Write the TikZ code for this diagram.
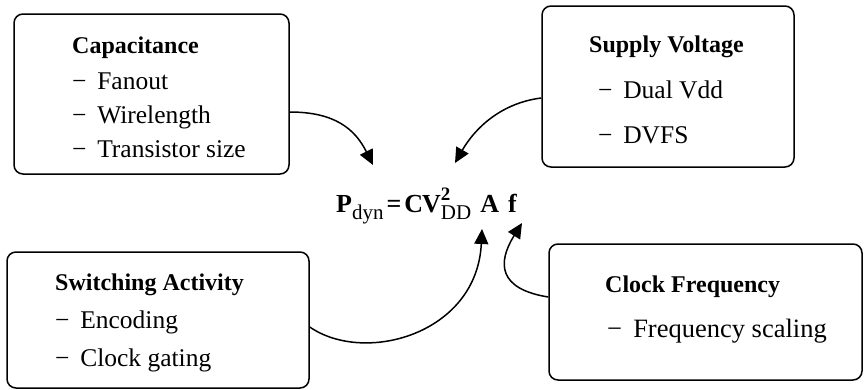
\documentclass[tikz,border=0pt]{standalone}
\usepackage{fontspec}
\setmainfont{Liberation Serif}
\usetikzlibrary{arrows.meta}
\begin{document}
\begin{tikzpicture}[x=1pt,y=-1pt,
  box/.style={draw, line width=1.5pt, rounded corners=9pt, inner sep=0pt},
  txt/.style={anchor=base west, inner sep=0pt, font=\fontsize{25.5}{30}\selectfont},
  ttl/.style={anchor=base west, inner sep=0pt, font=\fontsize{24}{28}\selectfont\bfseries},
  conn/.style={line width=1.5pt, -{Triangle[length=15pt,width=14pt]}}]
\useasboundingbox (0,0) rectangle (866,389);
\newcommand{\dsh}{−\hspace{0.42em}}
% boxes
\node[box, minimum width=275pt, minimum height=160pt] (cap) at (151.5,94) {};
\node[box, minimum width=252pt, minimum height=161pt] (sup) at (668,86.5) {};
\node[box, minimum width=302pt, minimum height=136pt] (sw) at (158,320) {};
\node[box, minimum width=313pt, minimum height=136pt] (clk) at (705.5,312) {};
% texts
\node[ttl] (capt) at (72,53) {Capacitance};
\node[txt] (cap1) at (72,89) {\dsh Fanout};
\node[txt] (cap2) at (72,123) {\dsh Wirelength};
\node[txt] (cap3) at (72,157) {\dsh Transistor size};
\node[ttl] (supt) at (589,52) {Supply Voltage};
\node[txt] (sup1) at (598,98) {\dsh Dual Vdd};
\node[txt] (sup2) at (598,143) {\dsh DVFS};
\node[ttl] (swt) at (55,290) {Switching Activity};
\node[txt] (sw1) at (55,328) {\dsh Encoding};
\node[txt] (sw2) at (55,366) {\dsh Clock gating};
\node[ttl] (clkt) at (605,292) {Clock Frequency};
\node[txt, font=\fontsize{26.5}{30}\selectfont] (clk1) at (607,337) {\dsh Frequency scaling};
% equation
\node[anchor=base west, inner sep=0pt, font=\fontsize{26}{30}\selectfont] (eq) at (336,212)
  {{\bfseries P}\raisebox{-7pt}{\fontsize{21}{22}\selectfont dyn}\kern3pt{\bfseries =}\kern3pt{\bfseries C\kern-1pt V}\rlap{\raisebox{12pt}{\fontsize{19}{20}\selectfont\bfseries 2}}\raisebox{-7pt}{\fontsize{21}{22}\selectfont DD}\hspace{9pt}{\bfseries A}\hspace{9pt}{\bfseries f}};
% arrow tips
\coordinate (t1) at (373,165);
\coordinate (t2) at (455,163);
\coordinate (t3) at (482,229);
\coordinate (t4) at (522,223);
% connectors
\draw[conn] ([yshift=-18pt]cap.east) .. controls +(45,0) and +(-18,-36) .. (t1);
\draw[conn] ([yshift=-11.5pt]sup.west) .. controls +(-40,5) and +(20,-35) .. (t2);
\draw[conn] ([yshift=-7pt]sw.east) .. controls +(55,38) and +(-5,105) .. (t3);
\draw[conn] ([yshift=15pt]clk.west) .. controls +(-50,-8) and +(-25,40) .. (t4);
\end{tikzpicture}
\end{document}
